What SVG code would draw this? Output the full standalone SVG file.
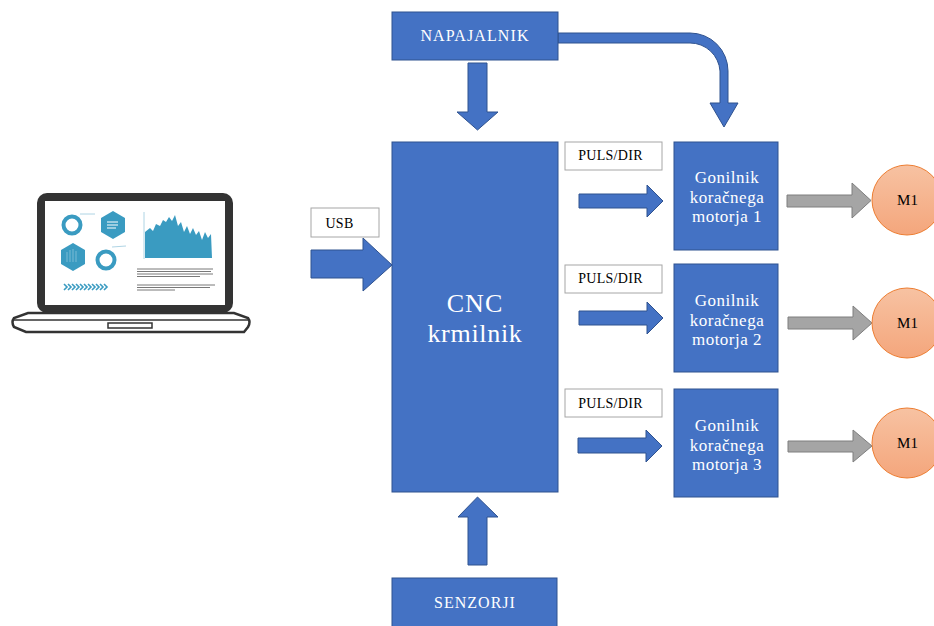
<svg xmlns="http://www.w3.org/2000/svg" width="934" height="626" viewBox="0 0 934 626">
  <defs>
    <style>
      .blk { fill: #4472C4; stroke: #2F528F; stroke-width: 1; }
      .arr { fill: #4472C4; stroke: #2F528F; stroke-width: 1; }
      .garr { fill: #A5A5A5; stroke: #7F7F7F; stroke-width: 1; }
      .lbl { fill: #FFFFFF; stroke: #A6A6A6; stroke-width: 1; }
      .motor { fill: url(#motorFill); stroke: #ED7D31; stroke-width: 1; }
      .wt { fill: #FFFFFF; text-anchor: middle; }
      .bt { fill: #000000; text-anchor: middle; }
      .teal { fill: #3A9BC1; }
      .tealS { fill: none; stroke: #3A9BC1; }
    </style>
    <linearGradient id="motorFill" x1="0" y1="0" x2="0" y2="1">
      <stop offset="0" stop-color="#F7C2A2"/>
      <stop offset="1" stop-color="#F4A67C"/>
    </linearGradient>
  </defs>

  <rect width="934" height="626" fill="#FFFFFF"/>

  <!-- Laptop -->
  <g id="laptop">
    <rect x="37" y="193" width="196" height="120" rx="10" fill="#333333"/>
    <rect x="45" y="201" width="180" height="104" fill="#FFFFFF"/>
    <!-- base -->
    <path d="M 36 313 L 234 313 L 248 318 Q 251 322 248 327 L 244 332 L 26 332 L 14 327 Q 11 322 14 318 L 28 313 Z" fill="#FFFFFF" stroke="#333333" stroke-width="2.5"/>
    <line x1="14" y1="320" x2="248" y2="320" stroke="#333333" stroke-width="1.5"/>
    <rect x="108" y="323" width="44" height="5" fill="#FFFFFF" stroke="#333333" stroke-width="1.5"/>
    <!-- screen graphics -->
    <circle cx="72" cy="225" r="8.5" class="tealS" stroke-width="4"/>
    <path d="M 80 214 L 95 214" stroke="#9AC9DD" stroke-width="0.8" fill="none"/>
    <polygon points="113,211 125,218 125,232 113,239 101,232 101,218" class="teal"/>
    <line x1="107" y1="222" x2="118" y2="222" stroke="#FFFFFF" stroke-width="1"/>
    <line x1="107" y1="225" x2="118" y2="225" stroke="#FFFFFF" stroke-width="1"/>
    <line x1="107" y1="228" x2="116" y2="228" stroke="#FFFFFF" stroke-width="1"/>
    <polygon points="73,243 85,250 85,264 73,271 61,264 61,250" class="teal"/>
    <path d="M 67 262 L 67 252 M 70 262 L 70 250 M 73 262 L 73 249 M 76 262 L 76 251" stroke="#8CC4DA" stroke-width="0.8"/>
    <circle cx="106" cy="260" r="8.5" class="tealS" stroke-width="4"/>
    <path d="M 112 247 L 126 246" stroke="#9AC9DD" stroke-width="0.8" fill="none"/>
    <g fill="none" stroke="#3A9BC1" stroke-width="1.6">
      <path d="M 64 284 l 3 3 l -3 3 M 68 284 l 3 3 l -3 3 M 72 284 l 3 3 l -3 3 M 76 284 l 3 3 l -3 3 M 80 284 l 3 3 l -3 3 M 84 284 l 3 3 l -3 3 M 88 284 l 3 3 l -3 3 M 92 284 l 3 3 l -3 3 M 96 284 l 3 3 l -3 3 M 100 284 l 3 3 l -3 3 M 104 284 l 3 3 l -3 3"/>
    </g>
    <line x1="144" y1="212" x2="144" y2="259" stroke="#9AC9DD" stroke-width="0.8"/>
    <path d="M 145 258 L 145 232 L 150 228 L 153 231 L 156 224 L 160 226 L 163 220 L 166 222 L 169 217 L 172 221 L 175 215 L 178 226 L 181 222 L 184 232 L 187 226 L 190 234 L 193 228 L 196 235 L 199 231 L 202 240 L 205 232 L 208 238 L 211 234 L 212 258 Z" class="teal"/>
    <g stroke="#555555" stroke-width="0.8">
      <line x1="137" y1="269" x2="213" y2="269"/>
      <line x1="137" y1="271.5" x2="211" y2="271.5"/>
      <line x1="137" y1="274" x2="213" y2="274"/>
      <line x1="137" y1="276.5" x2="200" y2="276.5"/>
      <line x1="137" y1="285" x2="215" y2="285"/>
      <line x1="137" y1="287.5" x2="210" y2="287.5"/>
      <line x1="137" y1="290" x2="175" y2="290"/>
    </g>
  </g>

  <!-- Connectors -->
  <g id="connectors">
    <!-- USB into controller -->
    <path class="arr" d="M 311 250 L 363 250 L 363 238 L 392 265 L 363 291 L 363 278 L 311 278 Z"/>
    <!-- power supply down to controller -->
    <path class="arr" d="M 468 63 L 487 63 L 487 112 L 498 112 L 477.5 130 L 457 112 L 468 112 Z"/>
    <!-- power supply bent to driver 1 -->
    <path class="arr" d="M 558 33 L 690 33 A 38 38 0 0 1 728 71 L 728 103 L 738 103 L 724 127 L 710 103 L 720 103 L 720 71 A 30 30 0 0 0 690 43 L 558 43 Z"/>
    <!-- sensors up to controller -->
    <path class="arr" d="M 468 565 L 487 565 L 487 517 L 498 517 L 477.5 497 L 458 517 L 468 517 Z"/>
    <!-- PULS/DIR to drivers -->
    <path class="arr" d="M 579 194 L 647 194 L 647 185 L 663 201 L 647 217 L 647 208 L 579 208 Z"/>
    <path class="arr" d="M 579 311 L 647 311 L 647 302 L 663 318 L 647 334 L 647 325 L 579 325 Z"/>
    <path class="arr" d="M 578 438 L 646 438 L 646 430 L 662 446 L 646 462 L 646 453 L 578 453 Z"/>
    <!-- drivers to motors -->
    <path class="garr" d="M 787 195 L 852 195 L 852 183 L 871 200.5 L 852 218 L 852 207 L 787 207 Z"/>
    <path class="garr" d="M 788 317 L 853 317 L 853 306 L 872 323 L 853 340 L 853 329 L 788 329 Z"/>
    <path class="garr" d="M 788 441 L 853 441 L 853 430 L 872 446 L 853 462 L 853 452 L 788 452 Z"/>
  </g>

  <g font-family="'Liberation Serif', 'Times New Roman', serif">
    <!-- Interface labels -->
    <g id="label-usb">
      <rect class="lbl" x="311" y="208" width="68" height="29"/>
      <text class="bt" x="339.5" y="228" font-size="14" letter-spacing="0.3">USB</text>
    </g>
    <g id="label-puls1">
      <rect class="lbl" x="565" y="142" width="97" height="28"/>
      <text class="bt" x="610.5" y="159.5" font-size="14" letter-spacing="0.3">PULS/DIR</text>
    </g>
    <g id="label-puls2">
      <rect class="lbl" x="565" y="265" width="97" height="28"/>
      <text class="bt" x="610.5" y="283" font-size="14" letter-spacing="0.3">PULS/DIR</text>
    </g>
    <g id="label-puls3">
      <rect class="lbl" x="565" y="389" width="97" height="28"/>
      <text class="bt" x="610.5" y="408" font-size="14" letter-spacing="0.3">PULS/DIR</text>
    </g>

    <!-- Blocks -->
    <g id="napajalnik">
      <rect class="blk" x="392" y="12" width="166" height="48"/>
      <text class="wt" x="475" y="41" font-size="16" letter-spacing="1.1">NAPAJALNIK</text>
    </g>
    <g id="cnc">
      <rect class="blk" x="392" y="142" width="166" height="350"/>
      <text class="wt" x="475" y="312" font-size="26" letter-spacing="1">CNC</text>
      <text class="wt" x="475" y="342" font-size="26" letter-spacing="0.7">krmilnik</text>
    </g>
    <g id="senzorji">
      <rect class="blk" x="392" y="578" width="165" height="56"/>
      <text class="wt" x="475" y="608" font-size="16" letter-spacing="1">SENZORJI</text>
    </g>
    <g id="driver1">
      <rect class="blk" x="674" y="142" width="104" height="108"/>
      <text class="wt" x="727" y="183" font-size="17" letter-spacing="0.5">Gonilnik</text>
      <text class="wt" x="727" y="203" font-size="17" letter-spacing="0.5">koračnega</text>
      <text class="wt" x="727" y="222" font-size="17" letter-spacing="0.5">motorja 1</text>
    </g>
    <g id="driver2">
      <rect class="blk" x="674" y="264" width="104" height="108"/>
      <text class="wt" x="727" y="306" font-size="17" letter-spacing="0.5">Gonilnik</text>
      <text class="wt" x="727" y="326" font-size="17" letter-spacing="0.5">koračnega</text>
      <text class="wt" x="727" y="345" font-size="17" letter-spacing="0.5">motorja 2</text>
    </g>
    <g id="driver3">
      <rect class="blk" x="674" y="389" width="104" height="108"/>
      <text class="wt" x="727" y="431" font-size="17" letter-spacing="0.5">Gonilnik</text>
      <text class="wt" x="727" y="451" font-size="17" letter-spacing="0.5">koračnega</text>
      <text class="wt" x="727" y="470" font-size="17" letter-spacing="0.5">motorja 3</text>
    </g>

    <!-- Motors -->
    <g id="motor1">
      <circle class="motor" cx="907" cy="200" r="35"/>
      <text class="bt" x="907.5" y="205" font-size="15">M1</text>
    </g>
    <g id="motor2">
      <circle class="motor" cx="907" cy="323" r="35"/>
      <text class="bt" x="907.5" y="328" font-size="15">M1</text>
    </g>
    <g id="motor3">
      <circle class="motor" cx="907" cy="443" r="35"/>
      <text class="bt" x="907.5" y="448" font-size="15">M1</text>
    </g>
  </g>
</svg>
